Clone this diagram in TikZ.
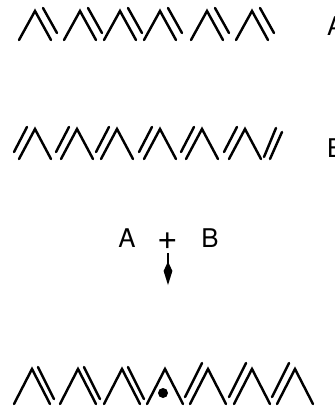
\documentclass[tikz,border=0pt]{standalone}
\usepackage{fontspec}
\setsansfont{TeX Gyre Heros}
\usetikzlibrary{arrows.meta}
\tikzset{chev/.style={line width=2.1pt,line cap=round},
 strand/.style={font=\sffamily\fontsize{22}{26}\selectfont,inner sep=0pt},
 push/.style={-{Kite[length=20pt,width=7.5pt,inset=8pt]},line width=1.8pt}}

\begin{document}
\begin{tikzpicture}[x=0.03cm,y=-0.03cm]
\useasboundingbox (0,0) rectangle (335,413);
\foreach \x in {35,80,120,160,207,252}{
 \draw[chev] (\x-16,40) -- (\x,11) -- (\x+16,40);
 \draw[chev] (\x+8,8) -- (\x+22,33);}
\node[strand,anchor=base west] (stra) at (327,35) {A};
\foreach \x in {35,77,117,160,202,245}{
 \draw[chev] (\x-16,159) -- (\x,129) -- (\x+16,159);
 \draw[chev] (\x-8,127) -- (\x-21,152);}
\draw[chev] (264,157) -- (276,128);
\draw[chev] (270,159) -- (282,132);
\node[strand,anchor=base west] (strb) at (327,157) {B};
\node[strand,anchor=base] (suma) at (127,247) {A};
\node[strand,anchor=base,font=\sffamily\fontsize{30}{34}\selectfont] (plus) at (168,249) {+};
\node[strand,anchor=base] (sumb) at (210,247) {B};
\coordinate (tip) at (168,285);
\draw[push,shorten <=3pt] (plus.south) -- (tip);
\foreach \x in {32,78,122}{
 \draw[chev] (\x-18,404) -- (\x,369) -- (\x+18,404);
 \draw[chev] (\x+6,367) -- (\x+22,399);}
\draw[chev] (147,404) -- (165,369) -- (183,404);
\fill (163,393) circle (5);
\foreach \x in {208,252,295}{
 \draw[chev] (\x-18,404) -- (\x,369) -- (\x+18,404);
 \draw[chev] (\x-6,363) -- (\x-23,397);}
\end{tikzpicture}
\end{document}
